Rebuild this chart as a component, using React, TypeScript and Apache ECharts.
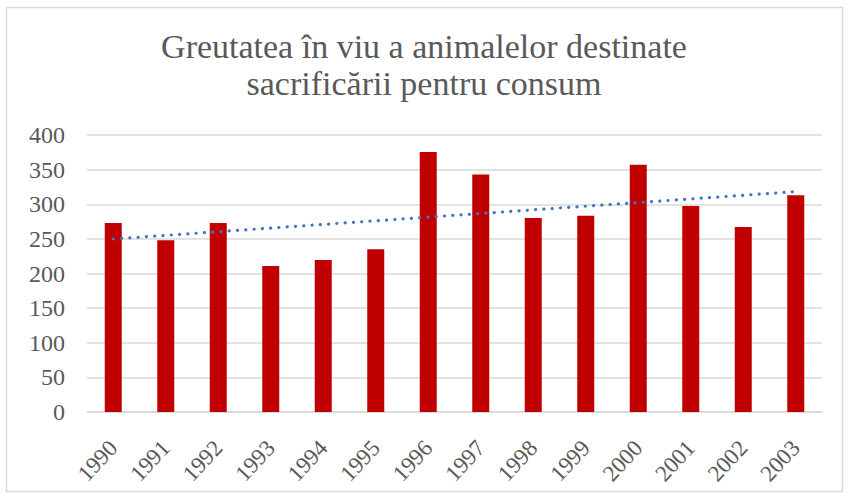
import React, { useEffect, useRef } from "react";
import * as echarts from "echarts";

const TITLE = "Greutatea în viu a animalelor destinate\nsacrificării pentru consum";
const years = ["1990","1991","1992","1993","1994","1995","1996","1997","1998","1999","2000","2001","2002","2003"];
const values = [273, 248, 273, 211, 219.5, 235, 375.5, 343, 280, 283.5, 357, 297.5, 267, 313];
const yTicks = { min: 0, max: 400, interval: 50 };

function linearTrend(ys: number[]): number[] {
  const n = ys.length;
  const mx = (n - 1) / 2;
  const my = ys.reduce((a, b) => a + b, 0) / n;
  let sxy = 0, sxx = 0;
  ys.forEach((y, i) => { sxy += (i - mx) * (y - my); sxx += (i - mx) * (i - mx); });
  const slope = sxy / sxx;
  return ys.map((_, i) => my + slope * (i - mx));
}

export default function App() {
  const ref = useRef<HTMLDivElement>(null);
  useEffect(() => {
    if (!ref.current) return;
    const chart = echarts.init(ref.current, null, { renderer: "svg" });
    const trend = linearTrend(values);
    const font = "'Liberation Serif', serif";
    chart.setOption({
      animation: false,
      backgroundColor: "#ffffff",
      title: {
        text: TITLE,
        left: "center",
        top: 23,
        padding: [5, 5, 5, 21],
        textStyle: { fontFamily: font, fontSize: 34, fontWeight: "normal", color: "#595959", lineHeight: 37 },
      },
      graphic: [
        { type: "rect", shape: { x: 6.5, y: 7.5, width: 836, height: 484 }, style: { fill: "none", stroke: "#d9d9d9", lineWidth: 1.5 }, silent: true },
      ],
      grid: { left: 87, right: 26, top: 135, bottom: 85 },
      xAxis: {
        type: "category",
        data: years,
        axisLine: { lineStyle: { color: "#d9d9d9", width: 1.5 } },
        axisTick: { show: false },
        axisLabel: { rotate: 47, color: "#595959", fontFamily: font, fontSize: 23, margin: 32, interval: 0 },
      },
      yAxis: {
        type: "value",
        min: yTicks.min,
        max: yTicks.max,
        interval: yTicks.interval,
        axisLine: { show: false },
        axisTick: { show: false },
        splitLine: { lineStyle: { color: "#d9d9d9", width: 1.5 } },
        axisLabel: { color: "#595959", fontFamily: font, fontSize: 24, margin: 22 },
      },
      series: [
        {
          type: "bar",
          data: values,
          barWidth: 17,
          itemStyle: { color: "#C00000" },
        },
        {
          type: "line",
          data: trend,
          symbol: "none",
          lineStyle: { color: "#4472C4", width: 3.2, type: [0.1, 8.2], cap: "round" },
          z: 5,
        },
      ],
    });
    return () => chart.dispose();
  }, []);
  return <div ref={ref} style={{ position: "absolute", left: 0, top: 0, width: 848, height: 497 }} />;
}
